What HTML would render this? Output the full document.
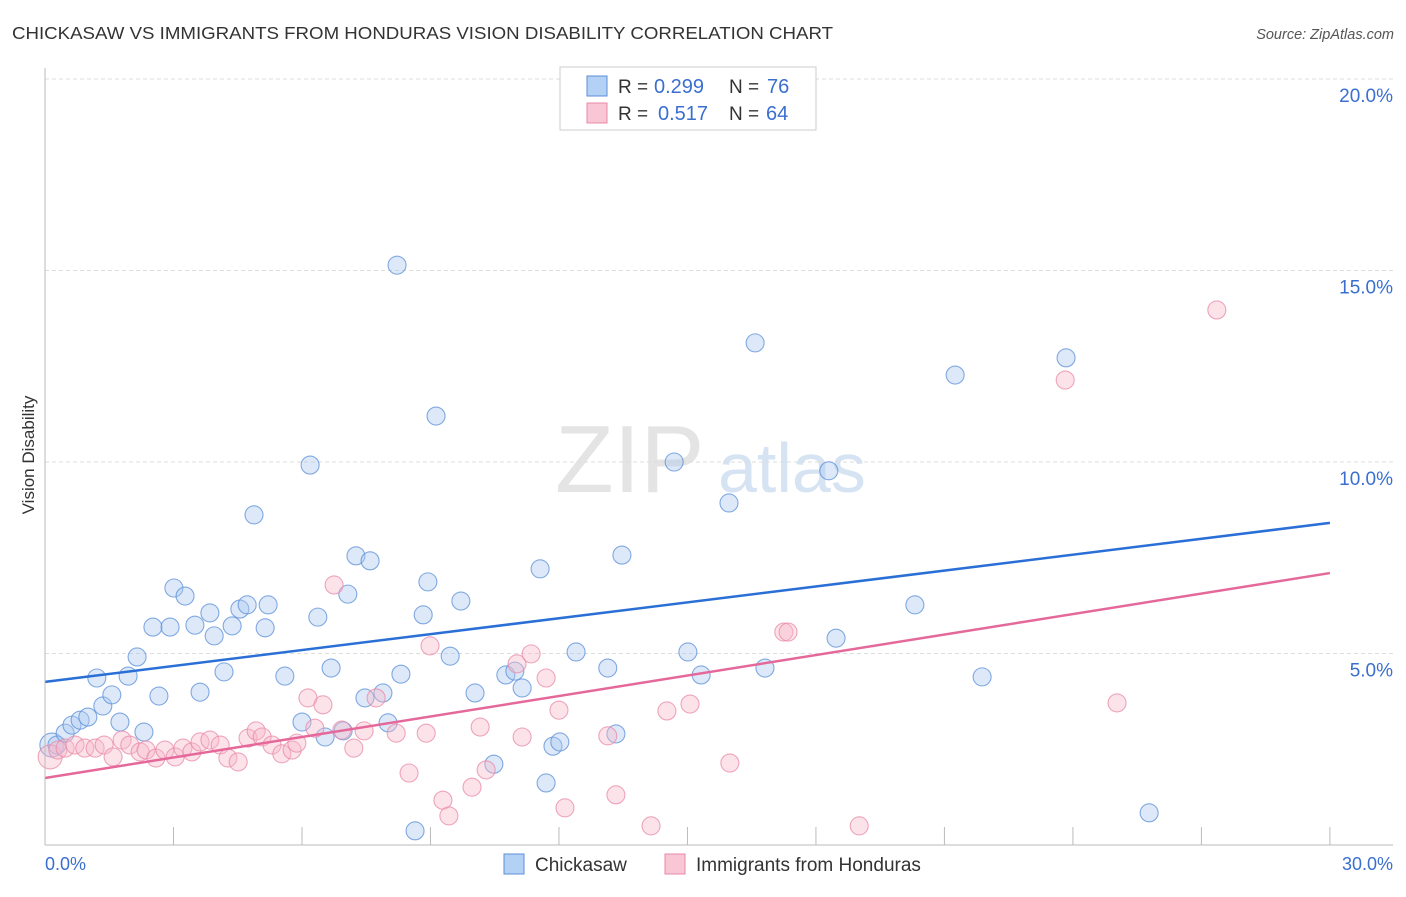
<!DOCTYPE html>
<html><head><meta charset="utf-8"><style>
body{margin:0;background:#fff;font-family:"Liberation Sans",sans-serif;}
svg text{font-family:"Liberation Sans",sans-serif;}
</style></head><body>
<svg id="c" width="1406" height="892">
<text x="12" y="39" font-size="17.5" fill="#333" textLength="821" lengthAdjust="spacingAndGlyphs">CHICKASAW VS IMMIGRANTS FROM HONDURAS VISION DISABILITY CORRELATION CHART</text>
<text x="1394" y="39" font-size="14.5" fill="#555" font-style="italic" text-anchor="end">Source: ZipAtlas.com</text>
<text x="555" y="492" font-size="96" fill="#e4e4e4" font-family="Liberation Serif">ZIP</text>
<text x="718" y="492" font-size="70" fill="#d6e3f3">atlas</text>
<text transform="translate(34,455) rotate(-90)" font-size="17" fill="#333" text-anchor="middle">Vision Disability</text>
<g id="grid"></g><g id="marks"></g>
<line x1="45" y1="68" x2="45" y2="845" stroke="#bbb"/>
<line x1="45" y1="845" x2="1393" y2="845" stroke="#bbb"/>
<text x="45" y="870" font-size="18" fill="#3a6fd0">0.0%</text>
<text x="1393" y="870" font-size="18" fill="#3a6fd0" text-anchor="end">30.0%</text>
<g>
<rect x="560" y="67" width="256" height="63" fill="#fff" stroke="#ccc"/>
<rect x="587" y="76" width="20" height="20" fill="#b3d0f5" stroke="#5b8fd8"/>
<rect x="587" y="103" width="20" height="20" fill="#f8c6d4" stroke="#e88aa8"/>
<text x="618" y="93" font-size="19" fill="#333">R =</text>
<text x="654" y="93" font-size="20" fill="#3a6fd0">0.299</text>
<text x="729" y="93" font-size="19" fill="#333">N =</text>
<text x="767" y="93" font-size="20" fill="#3a6fd0">76</text>
<text x="618" y="120" font-size="19" fill="#333">R =</text>
<text x="658" y="120" font-size="20" fill="#3a6fd0">0.517</text>
<text x="729" y="120" font-size="19" fill="#333">N =</text>
<text x="766" y="120" font-size="20" fill="#3a6fd0">64</text>
</g>
<g>
<rect x="504" y="854" width="20" height="20" fill="#b3d0f5" stroke="#5b8fd8"/>
<text x="535" y="871" font-size="19" fill="#333">Chickasaw</text>
<rect x="665" y="854" width="20" height="20" fill="#f8c6d4" stroke="#e88aa8"/>
<text x="696" y="871" font-size="19" fill="#333">Immigrants from Honduras</text>
</g>
</svg>
<script>
const blueX=[0.16,0.28,0.47,0.63,0.82,1.00,1.21,1.35,1.56,1.75,1.94,2.15,2.31,2.52,2.66,2.92,3.01,3.27,3.50,3.62,3.85,3.95,4.18,4.37,4.55,4.72,4.88,5.14,5.21,5.60,6.00,6.19,6.37,6.54,6.68,6.96,7.07,7.26,7.47,7.59,7.89,8.01,8.22,8.31,8.64,8.83,8.94,9.13,9.46,9.71,10.04,10.48,10.76,10.97,11.14,11.56,11.70,11.86,12.02,12.40,13.14,13.33,13.47,14.69,15.01,15.32,15.97,16.58,16.81,18.30,18.47,20.31,21.25,21.88,23.84,25.78];
const blueY=[2.61,2.61,2.92,3.13,3.26,3.34,4.36,3.63,3.92,3.21,4.41,4.91,2.95,5.69,3.89,5.69,6.71,6.50,5.74,3.99,6.06,5.46,4.52,5.72,6.16,6.27,8.62,5.67,6.27,4.41,3.21,9.92,5.95,2.82,4.62,2.98,6.55,7.55,3.84,7.42,3.97,3.19,15.14,4.46,0.37,6.01,6.87,11.20,4.93,6.37,3.97,2.11,4.44,4.54,4.10,7.21,1.62,2.58,2.69,5.04,4.62,2.90,7.57,10.00,5.04,4.44,8.93,13.11,4.62,9.77,5.40,6.27,12.27,4.39,12.72,0.84];
const pinkX=[0.12,0.30,0.47,0.70,0.93,1.17,1.38,1.59,1.80,1.98,2.22,2.36,2.59,2.80,3.04,3.22,3.43,3.62,3.85,4.09,4.27,4.51,4.74,4.93,5.07,5.30,5.53,5.77,5.88,6.14,6.30,6.49,6.75,6.93,7.21,7.45,7.73,8.20,8.50,8.90,8.99,9.29,9.43,9.97,10.16,10.30,11.02,11.14,11.35,11.70,12.00,12.14,13.14,13.33,14.15,14.52,15.06,15.99,17.25,17.35,19.01,23.82,25.03,27.36];
const pinkY=[2.30,2.48,2.53,2.61,2.53,2.53,2.61,2.30,2.74,2.61,2.43,2.48,2.27,2.48,2.30,2.53,2.43,2.69,2.74,2.61,2.27,2.17,2.79,2.98,2.82,2.61,2.38,2.48,2.66,3.84,3.05,3.66,6.79,3.00,2.53,2.98,3.84,2.92,1.88,2.92,5.20,1.17,0.76,1.51,3.08,1.96,4.73,2.82,4.99,4.36,3.52,0.97,2.85,1.31,0.50,3.50,3.68,2.14,5.56,5.56,0.50,12.14,3.71,13.97];
const blueTrend=[4.26,8.41];
const pinkTrend=[1.75,7.10];
const yTicks=[5,10,15,20];
const yTickLabels=["5.0%","10.0%","15.0%","20.0%"];
const xTicks=[3,6,9,12,15,18,21,24,27,30];
const NS="http://www.w3.org/2000/svg";
const sx=v=>45+v*42.83, sy=v=>845-v*38.3;
const grid=document.getElementById('grid'), marks=document.getElementById('marks');
function mk(tag,attrs,parent){const e=document.createElementNS(NS,tag);for(const k in attrs)e.setAttribute(k,attrs[k]);parent.appendChild(e);return e;}
yTicks.forEach((t,i)=>{
 const l=mk('line',{x1:45,x2:1393,y1:sy(t),y2:sy(t),stroke:'#ddd','stroke-dasharray':'4,3'},grid);
 
 
 const tx=mk('text',{x:1393,y:sy(t)+23,'font-size':19,fill:'#3a6fd0','text-anchor':'end'},grid);
 tx.textContent=yTickLabels[i];
 
 
});
xTicks.forEach(t=>{
 const l=mk('line',{x1:sx(t),x2:sx(t),y1:827,y2:845,stroke:'#bbb'},grid);
 
 
});
function dots(X,Y,fill,stroke,name){
 X.forEach((x,i)=>{
  const c=mk('circle',{cx:sx(x),cy:sy(Y[i]),r:i===0?12:9,fill:fill,'fill-opacity':0.4,stroke:stroke,'stroke-opacity':0.75,'stroke-width':1.1},marks);
  
  
 });
}
dots(blueX,blueY,'#a9c8f0','#5b8fd8','chickasaw-point');
dots(pinkX,pinkY,'#f7b8cb','#e88aa8','honduras-point');
const bl=mk('line',{x1:sx(0),y1:sy(blueTrend[0]),x2:sx(30),y2:sy(blueTrend[1]),stroke:'#2a6fd6','stroke-width':2.5},marks);


const pl=mk('line',{x1:sx(0),y1:sy(pinkTrend[0]),x2:sx(30),y2:sy(pinkTrend[1]),stroke:'#e5689a','stroke-width':2.5},marks);


</script>
</body></html>
